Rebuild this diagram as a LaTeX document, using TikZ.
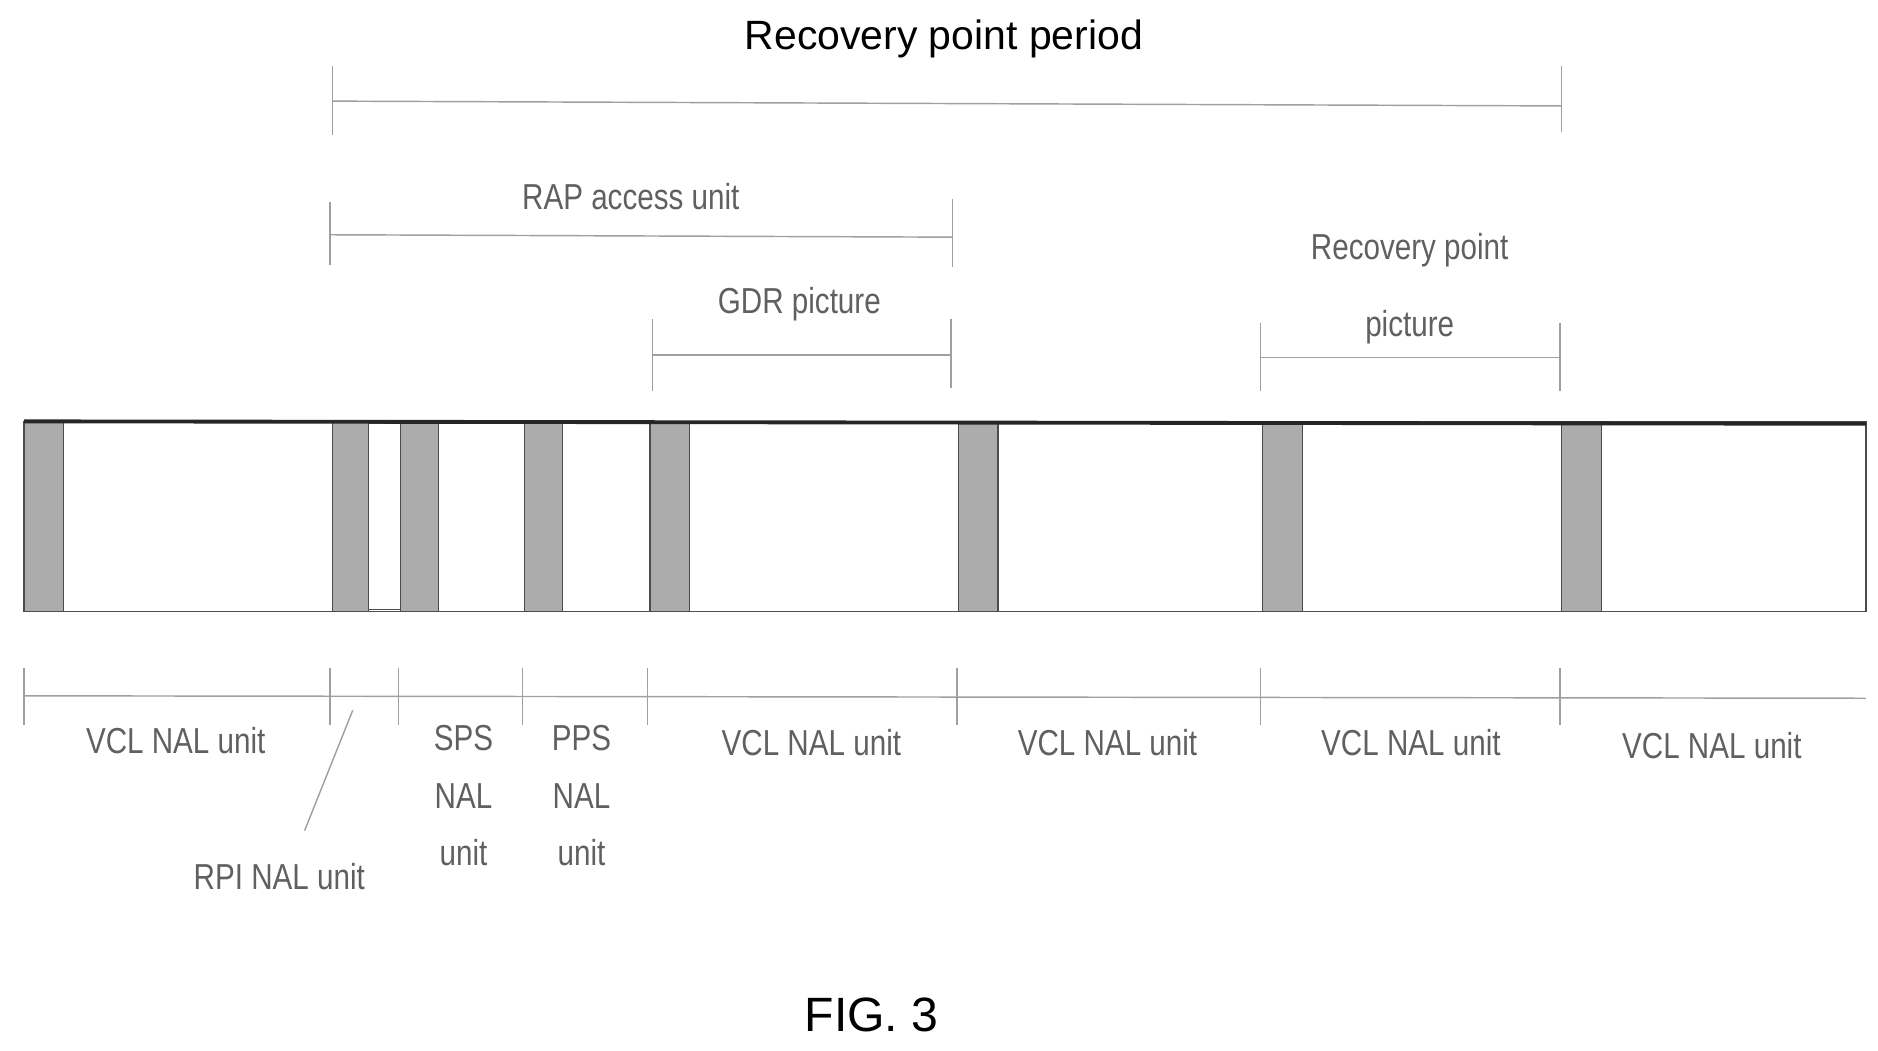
\documentclass[tikz,border=0pt]{standalone}
\usepackage{fontspec}
\setmainfont{Liberation Sans}
\newfontfamily\narrowf[FakeStretch=0.82]{Liberation Sans}
\begin{document}
\begin{tikzpicture}[x=0.5pt,y=-0.5pt,
  dim/.style={draw=gray!75,line width=0.6pt},
  lab/.style={font=\narrowf\fontsize{15}{22}\selectfont,text=gray!75!black,align=center,inner sep=0},
  stripe/.style={fill=gray!65,draw=gray!60!black,line width=0.5pt},
  cell/.style={fill=white,draw=gray!60!black,line width=0.5pt}]
\useasboundingbox (0,0) rectangle (1560,873);
% bar
\draw[cell] (20,350) rectangle (1550,508);
\foreach \a/\b in {20/53,276/306,333/364,436/467,540/573,796/829,1049/1082,1297/1330}
  \draw[stripe] (\a,350) rectangle (\b,508);
\draw[cell] (306,352) rectangle (333,506);
\draw[line width=1.6pt,gray!30!black] (20,350) -- (1550,352);
% lower ticks
\draw[dim] (20,578) -- (1550,580);
\foreach \x in {20,274,331,434,538,795,1047,1296}
  \draw[dim] (\x,555) -- (\x,602);
\node[lab] (v1) at (146,615) {VCL NAL unit};
\coordinate (rp1) at (293,590);
\coordinate (rp2) at (253,690);
\draw[dim] (rp1) -- (rp2);
\node[lab] (rpi) at (232,728) {RPI NAL unit};
\node[lab] (sps) at (385,661) {SPS\\[2pt]NAL\\[2pt]unit};
\node[lab] (pps) at (483,661) {PPS\\[2pt]NAL\\[2pt]unit};
\node[lab] (v2) at (674,617) {VCL NAL unit};
\node[lab] (v3) at (920,617) {VCL NAL unit};
\node[lab] (v4) at (1172,617) {VCL NAL unit};
\node[lab] (v5) at (1422,619) {VCL NAL unit};
% upper brackets
\draw[dim] (276,84) -- (1297,88);
\draw[dim] (276,55) -- (276,112); \draw[dim] (1297,55) -- (1297,110);
\node[font=\fontsize{17}{20}\selectfont,inner sep=0] (rpp) at (784,32) {Recovery point period};
\draw[dim] (274,195) -- (791,197);
\draw[dim] (274,168) -- (274,220); \draw[dim] (791,165) -- (791,222);
\node[lab] (rap) at (524,163) {RAP access unit};
\draw[dim] (542,295) -- (790,295);
\draw[dim] (542,265) -- (542,325); \draw[dim] (790,265) -- (790,322);
\node[lab] (gdr) at (664,253) {GDR picture};
\draw[dim] (1047,297) -- (1296,297);
\draw[dim] (1047,268) -- (1047,325); \draw[dim] (1296,268) -- (1296,325);
\node[lab] (rpic) at (1171,240) {Recovery point\\[10pt]picture};
\node[font=\fontsize{20}{24}\selectfont,inner sep=0] (fig) at (724,843) {FIG. 3};
\end{tikzpicture}
\end{document}
